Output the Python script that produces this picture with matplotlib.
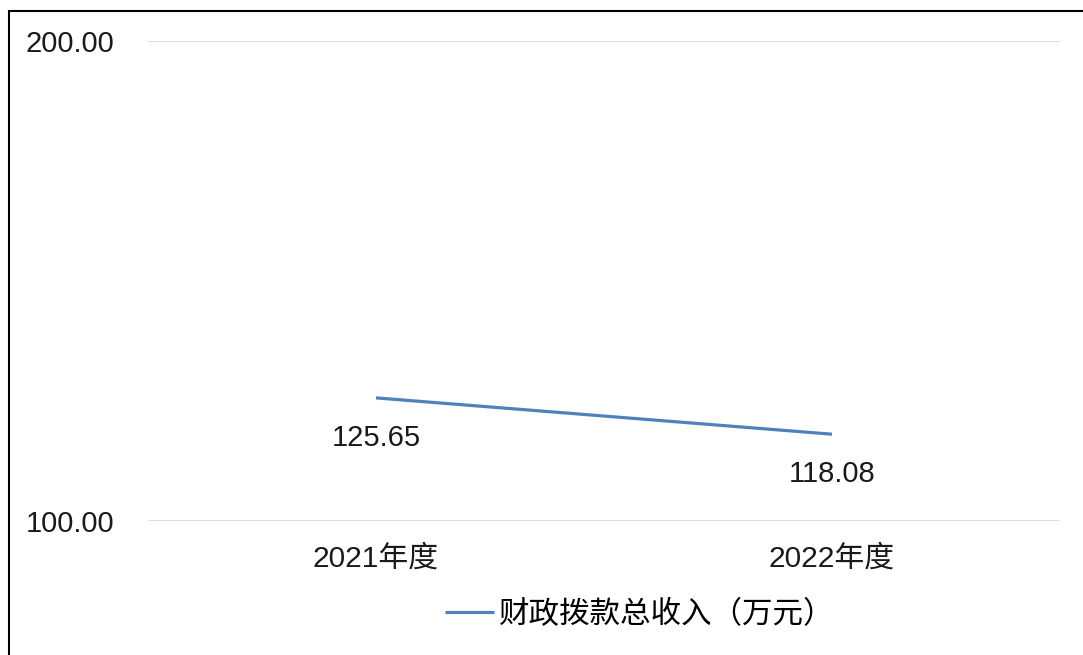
import matplotlib.pyplot as plt
from matplotlib.patches import Rectangle

plt.rcParams['font.family'] = ['Liberation Sans', 'Noto Sans CJK SC', 'DejaVu Sans']

years = ['2021年度', '2022年度']
income = [125.65, 118.08]
series_name = '财政拨款总收入（万元）'
y_ticks = [100, 200]

fig = plt.figure(figsize=(10.83, 6.55), dpi=100)
ax = fig.add_axes([0.1367, 0.2046, 0.842, 0.7328])

xs = [i + 0.5 for i in range(len(years))]
ax.plot(xs, income, color='#4F81BD', lw=2.3, label=series_name, solid_capstyle='butt')

for x, v in zip(xs, income):
    ax.annotate(f'{v:.2f}', (x, v), xytext=(0, -29), textcoords='offset points',
                ha='center', va='center', fontsize=21, color='#1a1a1a')

ax.set_xlim(0, len(years))
ax.set_ylim(100, 200)
ax.set_xticks(xs)
ax.set_xticklabels(years, fontsize=21.5)
ax.set_yticks(y_ticks)
ax.set_yticklabels([f'{t:.2f}' for t in y_ticks], fontsize=21)
ax.tick_params(axis='both', length=0, labelcolor='#1a1a1a')
ax.tick_params(axis='x', pad=17)
ax.tick_params(axis='y', pad=24)
ax.grid(axis='y', color='#D9D9D9', lw=1.2)
ax.set_axisbelow(True)
for s in ax.spines.values():
    s.set_visible(False)

fig.legend(loc='center', bbox_to_anchor=(0.591, 0.061), frameon=False,
           fontsize=22, handlelength=1.6, handletextpad=0.16)

# outer frame, only left and top edges fall inside the canvas
fig.add_artist(Rectangle((9 / 1083, -0.1), 1.2, 1 - 11 / 655 + 0.1,
                         transform=fig.transFigure, fill=False,
                         edgecolor='black', lw=1.5, clip_on=False))

fig.savefig('out.png', dpi=100)
